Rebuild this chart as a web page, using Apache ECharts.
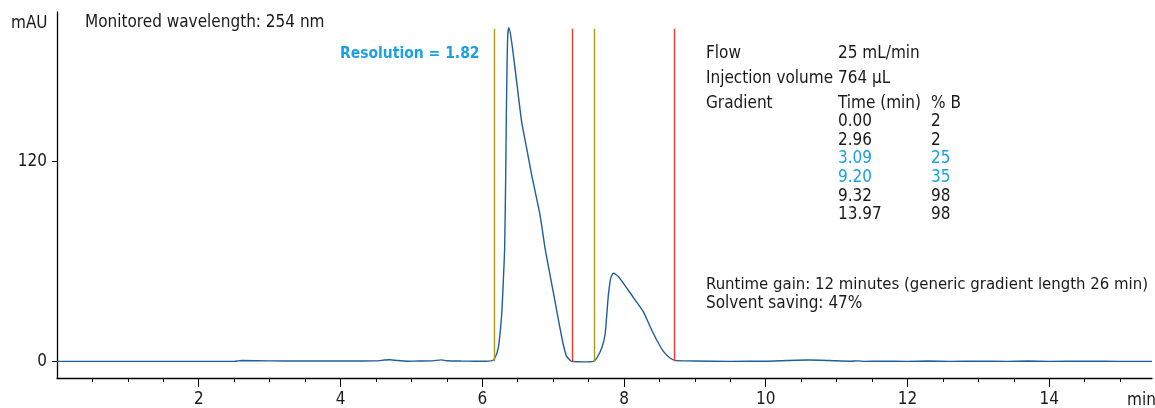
<!DOCTYPE html>
<html>
<head>
<meta charset="utf-8">
<title>Preparative separation – 254 nm</title>
<script src="https://cdn.jsdelivr.net/npm/echarts@6/dist/echarts.min.js"></script>
<style>
  html, body { margin: 0; padding: 0; background: #fff; }
  #chart { width: 1155px; height: 408px; }
</style>
</head>
<body>
<div id="chart"></div>
<script>
// UV trace at 254 nm: retention time (min) and absorbance (mAU)
const traceTime = [
  0, 0.5, 1.0, 1.5, 2.0, 2.5, 2.55, 2.6, 3.0, 3.5, 4.0, 4.5, 4.62, 4.7, 4.8, 4.95,
  5.1, 5.3, 5.42, 5.5, 5.7, 5.9, 6.05, 6.12, 6.165, 6.226, 6.274, 6.297, 6.316, 6.33,
  6.34, 6.35, 6.36, 6.377, 6.415, 6.486, 6.556, 6.627, 6.698, 6.815, 6.886, 6.956,
  7.027, 7.097, 7.144, 7.19, 7.24, 7.263, 7.426, 7.567, 7.616, 7.686, 7.733, 7.757,
  7.78, 7.813, 7.85, 7.92, 8.04, 8.156, 8.27, 8.368, 8.46, 8.556, 8.65, 8.72, 8.85,
  9.0, 9.5, 10.0, 10.3, 10.6, 10.9, 11.2, 11.3, 11.4, 11.6, 12.0, 12.3, 12.6, 13.0,
  13.4, 13.7, 14.0, 14.5, 15.0, 15.45
];
const absorbance = [
  0, 0, 0, 0, 0, 0, 0.2, 0.5, 0.3, 0.2, 0.2, 0.3, 0.8, 1.0, 0.5, 0.1,
  0.2, 0.3, 0.9, 0.4, 0.2, 0.1, 0.1, 0.3, 1, 8, 28, 48, 68, 108,
  148, 178, 196, 200.5, 192, 168, 144, 128, 112, 88, 68, 52,
  36, 20, 10, 3, 0.6, 0, -0.3, 0, 2, 8, 16, 28,
  40, 50, 53, 51, 44, 37, 30, 21, 13, 6, 2, 0.6, 0.3,
  0.2, 0, 0.1, 0.5, 0.8, 0.5, 0.1, 0.3, 0, 0.1, 0, 0.2, 0, 0.1,
  0, 0.2, 0, 0.1, 0, 0
];

// Fraction collection cut points (min)
const fractionStart = [6.165, 7.58];
const fractionEnd = [7.263, 8.71];
const cutTop = 200;

// Axis ticks and labels
const xMinorTicks = [0.5, 1, 1.5, 2, 2.5, 3, 3.5, 4, 4.5, 5, 5.5, 6, 6.5, 7, 7.5, 8,
  8.5, 9, 9.5, 10, 10.5, 11, 11.5, 12, 12.5, 13, 13.5, 14, 14.5, 15];
const xMajorTicks = [2, 4, 6, 8, 10, 12, 14];
const yTicks = [0, 120];

// Method table
const methodLabels = ['Flow', 'Injection volume', 'Gradient'];
const methodValues = ['25 mL/min', '764 µL', 'Time (min)'];
const gradientTime = ['0.00', '2.96', '3.09', '9.20', '9.32', '13.97'];
const gradientB = ['2', '2', '25', '35', '98', '98'];
const highlightedRows = [2, 3];

const FONT = '"DejaVu Sans Condensed", "Liberation Sans Narrow", "Arial Narrow", sans-serif';
const INK = '#1a1a1a';
const ACCENT = '#1ba1e2';
const FS = 17;

const traceData = traceTime.map((t, i) => [t, absorbance[i]]);

function cutLine(t, color) {
  return [
    { coord: [t, 0], lineStyle: { color: color, width: 1.4, type: 'solid' } },
    { coord: [t, cutTop] }
  ];
}

function txt(x, y, text, opts) {
  return {
    type: 'text', x: x, y: y + 1.5, silent: true, z: 100,
    style: Object.assign({
      text: text, fill: INK, fontFamily: FONT, fontSize: FS,
      align: 'left', verticalAlign: 'middle'
    }, opts || {})
  };
}

const graphics = [
  txt(11, 22, 'mAU'),
  txt(85, 21, 'Monitored wavelength: 254 nm'),
  txt(340, 52, 'Resolution = 1.82', { fill: ACCENT, fontWeight: 'bold', fontSize: 15.5 }),
  txt(1127, 399, 'min'),
  txt(706, 283, 'Runtime gain: 12 minutes (generic gradient length 26 min)', { fontSize: 16.6 }),
  txt(706, 302, 'Solvent saving: 47%')
];
methodLabels.forEach((s, i) => graphics.push(txt(706, 52 + i * 24.8, s)));
methodValues.forEach((s, i) => graphics.push(txt(838, 52 + i * 24.8, s)));
graphics.push(txt(931, 101.6, '% B'));
gradientTime.forEach((s, i) => {
  const fill = highlightedRows.indexOf(i) >= 0 ? ACCENT : INK;
  graphics.push(txt(838, 120 + i * 18.65, s, { fill: fill }));
  graphics.push(txt(931, 120 + i * 18.65, gradientB[i], { fill: fill }));
});

const chart = echarts.init(document.getElementById('chart'), null, { renderer: 'canvas' });

const xBase = { type: 'value', min: 0, max: 15.45, splitLine: { show: false } };

chart.setOption({
  animation: false,
  backgroundColor: '#ffffff',
  grid: { left: 57, right: 3, top: 12, bottom: 29, containLabel: false },
  xAxis: [
    Object.assign({}, xBase, {
      axisLine: { show: true, onZero: false, lineStyle: { color: '#000', width: 1.3 } },
      axisTick: { show: true, inside: false, length: 4, customValues: xMinorTicks,
        lineStyle: { color: '#000', width: 1 } },
      axisLabel: { show: true, customValues: xMajorTicks, margin: 13, color: INK,
        fontFamily: FONT, fontSize: FS }
    }),
    Object.assign({}, xBase, {
      position: 'bottom',
      axisLine: { show: false, onZero: false },
      axisTick: { show: true, inside: false, length: 9, customValues: xMajorTicks,
        lineStyle: { color: '#000', width: 1 } },
      axisLabel: { show: false }
    })
  ],
  yAxis: {
    type: 'value', min: -10, max: 210,
    splitLine: { show: false },
    axisLine: { show: true, onZero: false, lineStyle: { color: '#000', width: 1.3 } },
    axisTick: { show: true, length: 5, customValues: yTicks, lineStyle: { color: '#000' } },
    axisLabel: { customValues: yTicks, margin: 10, color: INK, fontFamily: FONT, fontSize: FS }
  },
  graphic: graphics,
  series: [
    {
      type: 'line',
      data: traceData,
      showSymbol: false,
      smooth: 0.2,
      lineStyle: { color: '#1f5e97', width: 1.4 },
      silent: true,
      markLine: {
        silent: true,
        symbol: ['none', 'none'],
        label: { show: false },
        emphasis: { disabled: true },
        data: [
          cutLine(fractionStart[0], '#ab9b22'),
          cutLine(fractionEnd[0], '#ef3a2b'),
          cutLine(fractionStart[1], '#ab9b22'),
          cutLine(fractionEnd[1], '#ef3a2b')
        ]
      }
    }
  ]
});
</script>
</body>
</html>
